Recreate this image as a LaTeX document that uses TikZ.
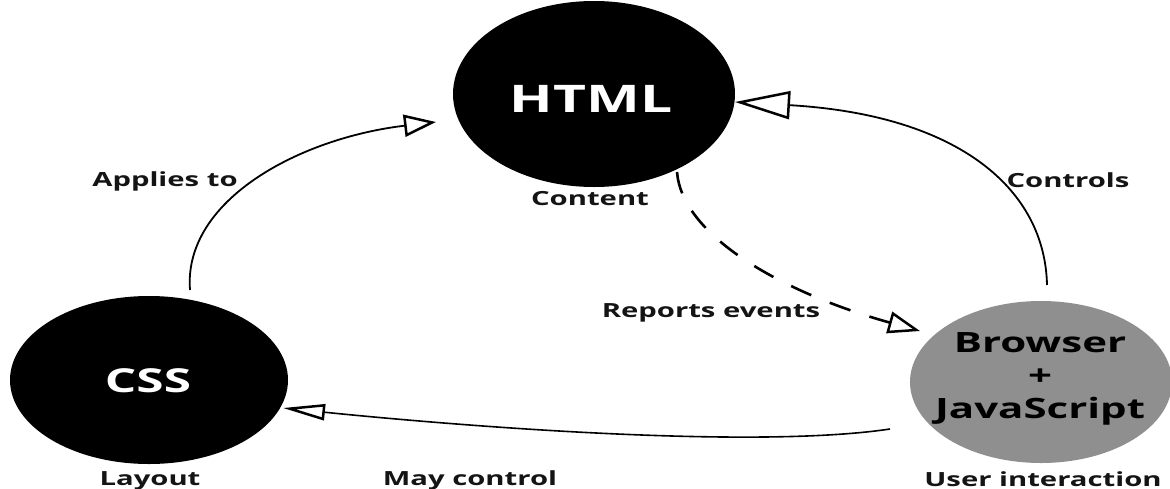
\documentclass[tikz,border=0pt]{standalone}
\usepackage{fontspec}
\setmainfont{Open Sans}[FakeStretch=1.5]
\usetikzlibrary{shapes.geometric,arrows.meta}
\definecolor{jsgray}{RGB}{143,143,143}
\definecolor{ink}{RGB}{20,20,20}
\begin{document}
\begin{tikzpicture}[x=1pt,y=-1pt,
  blob/.style={ellipse, inner sep=0pt},
  lbl/.style={font=\bfseries\fontsize{19.5}{22}\selectfont, text=ink, anchor=base, inner sep=0pt},
  conn/.style={line width=1.8pt, -{Triangle[open, length=32pt, width=22pt, line width=2.5pt]}},
]
\useasboundingbox (0,0) rectangle (1170,488);
\node[blob, fill=black, minimum width=282, minimum height=186] (html) at (594,94) {};
\node[text=white, font=\bfseries\fontsize{38}{40}\selectfont, anchor=base, inner sep=0pt] (htmlt) at (591,112) {HTML};
\node[blob, fill=black, minimum width=278, minimum height=168] (css) at (149,380) {};
\node[text=white, font=\bfseries\fontsize{33}{35}\selectfont, anchor=base, inner sep=0pt] (csst) at (148,392) {CSS};
\node[blob, fill=jsgray, minimum width=262, minimum height=162] (js) at (1041,382) {};
\node[text=black, font=\bfseries\fontsize{28}{33}\selectfont, align=center] (jst) at (1040,379) {Browser\\+\\JavaScript};

\node[lbl] (content) at (590,205) {Content};
\node[lbl] (layout) at (150,485) {Layout};
\node[lbl] (user) at (1043,486) {User interaction};
\node[lbl] (applies) at (165,186) {Applies to};
\node[lbl] (controls) at (1068,187) {Controls};
\node[lbl] (reports) at (711,317) {Reports events};
\node[lbl] (may) at (470,485) {May control};

\coordinate (a1) at (190,290);
\coordinate (a2) at (436,122);
\draw[conn] (a1) .. controls (183,200) and (300,138) .. (a2);

\coordinate (c1) at (1047,285);
\coordinate (c2) at (735,102);
\draw[conn, -{Triangle[open, length=55pt, width=28pt, line width=2.5pt]}] (c1) .. controls (1045,190) and (960,115) .. (c2);

\coordinate (r1) at (677,172);
\coordinate (r2) at (920,331);
\draw[conn, line width=2.6pt, dash pattern=on 22pt off 20pt] (r1) .. controls (682,235) and (780,292) .. (r2);

\coordinate (m1) at (890,429);
\coordinate (m2) at (283,408);
\draw[conn, line width=1.6pt, -{Triangle[open, length=42pt, width=16pt, line width=2.5pt]}] (m1) .. controls (750,450) and (450,425) .. (m2);
\end{tikzpicture}
\end{document}
